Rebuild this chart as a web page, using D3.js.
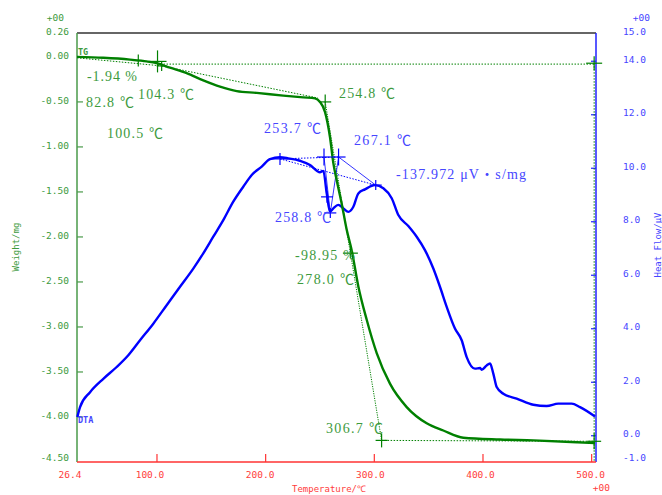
<!DOCTYPE html>
<html><head><meta charset="utf-8">
<script src="https://cdn.jsdelivr.net/npm/d3@7/dist/d3.min.js"></script>
<style>body{margin:0;background:#fff;} svg{display:block;}</style>
</head><body><svg id="c" width="662" height="495"></svg>
<script>
// ---------------- DATA ----------------
const tempTicks = [26.4, 100, 200, 300, 400, 500];
const tempTickLabels = ["26.4", "100.0", "200.0", "300.0", "400.0", "500.0"];
const weightTicks = [0.26, 0, -0.5, -1, -1.5, -2, -2.5, -3, -3.5, -4, -4.5];
const weightTickLabels = ["0.26", "0.00", "-0.50", "-1.00", "-1.50", "-2.00", "-2.50", "-3.00", "-3.50", "-4.00", "-4.50"];
const heatTicks = [15, 14, 12, 10, 8, 6, 4, 2, 0, -1];
const heatTickLabels = ["15.0", "14.0", "12.0", "10.0", "8.0", "6.0", "4.0", "2.0", "0.0", "-1.0"];

// TG curve (temperature °C, weight mg)
const tgTemp   = [26.4, 50.6, 75.2, 90.5, 99.7, 112.0, 127.3, 142.6, 158.0, 173.4, 191.8, 216.2, 234.6, 245.4, 250.0, 254.6, 259.2, 262.3, 265.4, 270.0, 274.6, 279.2, 285.3, 293.0, 302.2, 314.4, 329.8, 348.2, 363.5, 381.9, 415.7, 446.3, 486.2, 503.1];
const tgWeight = [0.00, -0.01, -0.03, -0.05, -0.07, -0.12, -0.18, -0.26, -0.33, -0.38, -0.40, -0.43, -0.45, -0.46, -0.50, -0.61, -0.89, -1.18, -1.37, -1.63, -1.92, -2.15, -2.55, -2.92, -3.29, -3.63, -3.89, -4.07, -4.15, -4.23, -4.25, -4.26, -4.28, -4.29];

// DTA curve (temperature °C, heat flow µV)
const dtaTemp = [26.7, 29.2, 38.4, 50.6, 62.9, 73.6, 84.4, 96.6, 108.9, 121.2, 133.4, 142.6, 151.8, 161.0, 170.2, 179.4, 187.2, 196.4, 204.0, 213.2, 220.8, 231.6, 240.8, 247.0, 250.0, 253.1, 256.2, 259.2, 262.3, 266.8, 271.5, 276.1, 280.7, 285.3, 291.4, 300.6, 308.3, 316.0, 322.1, 331.3, 339.0, 346.6, 354.3, 360.4, 366.6, 374.2, 380.4, 385.0, 392.6, 397.3, 398.8, 403.4, 406.5, 409.5, 412.6, 418.7, 431.0, 446.3, 458.6, 469.3, 481.6, 489.3, 503.1];
const dtaHeat = [0.70, 1.07, 1.63, 2.13, 2.57, 3.01, 3.57, 4.19, 4.88, 5.57, 6.25, 6.82, 7.44, 8.06, 8.75, 9.31, 9.75, 10.06, 10.34, 10.41, 10.37, 10.28, 10.12, 9.91, 9.85, 9.90, 9.06, 8.37, 8.50, 8.63, 8.50, 8.37, 8.56, 9.06, 9.21, 9.37, 9.25, 8.88, 8.25, 7.84, 7.44, 6.94, 6.25, 5.57, 4.82, 4.01, 3.57, 2.94, 2.51, 2.53, 2.47, 2.63, 2.70, 2.32, 1.82, 1.57, 1.39, 1.16, 1.11, 1.20, 1.20, 1.07, 0.72];

// analysis points
const tgMarkTemp   = [82.8, 100.5, 104.3, 254.8, 278.0, 306.7, 502.3, 502.3];
const tgMarkWeight = [-0.04, -0.05, -0.10, -0.50, -2.18, -4.26, -0.07, -4.27];
const dtaMarkTemp  = [213.2, 253.7, 267.1, 301.3, 256.5, 259.5];
const dtaMarkHeat  = [10.35, 10.42, 10.42, 9.37, 8.93, 8.33];

const annotTexts = ["-1.94 %", "82.8 ℃", "104.3 ℃", "100.5 ℃", "254.8 ℃", "-98.95 %", "278.0 ℃", "306.7 ℃",
                    "253.7 ℃", "267.1 ℃", "-137.972 μV・s/mg", "258.8 ℃"];

// ---------------- LAYOUT ----------------
const svg = d3.select("#c");
const L = 77, R = 596, T = 33, B = 462;
const x = d3.scaleLinear().domain([26.4, 504]).range([L, R]);
const yW = d3.scaleLinear().domain([-4.5, 0.26]).range([B, 33.5]);
const yH = d3.scaleLinear().domain([-1, 15]).range([462.5, 34.5]);

const GREEN = "#008000", BLUE = "#0000ff";
const GTXT = "#3d9a3d", BTXT = "#4646ff", RTXT = "#ff3c3c";
const axisFont = "'DejaVu Sans Mono', 'Liberation Mono', monospace";
const serif = "'Liberation Serif', 'Noto Sans CJK JP', serif";

// frame
svg.append("line").attr("x1", L).attr("x2", R).attr("y1", T).attr("y2", T).attr("stroke", "#333").attr("stroke-width", 1.5);
svg.append("line").attr("x1", L).attr("x2", L).attr("y1", T).attr("y2", B).attr("stroke", "#4a9a4a").attr("stroke-width", 1.5);
svg.append("line").attr("x1", R).attr("x2", R).attr("y1", T).attr("y2", B).attr("stroke", "#2020ff").attr("stroke-width", 1.5);
svg.append("line").attr("x1", L).attr("x2", R).attr("y1", B).attr("y2", B).attr("stroke", "#ff3333").attr("stroke-width", 1.5);

// left axis
weightTicks.forEach((v, i) => {
  const yy = yW(v);
  if (i > 0 && i < weightTicks.length - 1)
    svg.append("line").attr("x1", L).attr("x2", L + 6).attr("y1", yy).attr("y2", yy).attr("stroke", "#4a9a4a").attr("stroke-width", 1.2);
  let ly = yy - 1.5;
  if (i === 0) ly = 31; if (i === weightTicks.length - 1) ly = 457.5;
  svg.append("text").attr("x", 69).attr("y", ly + 3.5).attr("text-anchor", "end")
    .attr("font-family", axisFont).attr("font-size", 9.5).attr("fill", GTXT).text(weightTickLabels[i]);
});
svg.append("text").attr("x", 64).attr("y", 21).attr("text-anchor", "end").attr("font-family", axisFont)
  .attr("font-size", 9.5).attr("fill", GTXT).text("+00");
svg.append("text").attr("transform", "translate(19,247) rotate(-90)").attr("text-anchor", "middle")
  .attr("font-family", axisFont).attr("font-size", 9).attr("fill", GTXT).text("Weight/mg");

// right axis
heatTicks.forEach((v, i) => {
  const yy = yH(v);
  if (i > 0 && i < heatTicks.length - 1)
    svg.append("line").attr("x1", R - 5).attr("x2", R).attr("y1", yy).attr("y2", yy).attr("stroke", "#2020ff").attr("stroke-width", 1.2);
  let ly = yy - 2;
  if (i === 0) ly = 31; if (i === heatTicks.length - 1) ly = 457.5;
  svg.append("text").attr("x", 623).attr("y", ly + 3.5).attr("text-anchor", "start")
    .attr("font-family", axisFont).attr("font-size", 9.5).attr("fill", BTXT).text(heatTickLabels[i]);
});
svg.append("text").attr("x", 650).attr("y", 21).attr("text-anchor", "end").attr("font-family", axisFont)
  .attr("font-size", 9.5).attr("fill", BTXT).text("+00");
svg.append("text").attr("transform", "translate(661,245) rotate(-90)").attr("text-anchor", "middle")
  .attr("font-family", axisFont).attr("font-size", 9).attr("fill", BTXT).text("Heat Flow/μV");

// bottom axis
tempTicks.forEach((v, i) => {
  const xx = x(v);
  if (i > 0)
    svg.append("line").attr("x1", xx).attr("x2", xx).attr("y1", B).attr("y2", B - 8).attr("stroke", "#ff3333").attr("stroke-width", 1.2);
  const off = v < 100 ? -7 : -7 + (v - 100) * 0.015;
  svg.append("text").attr("x", xx + off).attr("y", 478).attr("text-anchor", "middle")
    .attr("font-family", axisFont).attr("font-size", 9.5).attr("fill", RTXT).text(tempTickLabels[i]);
});
svg.append("text").attr("x", 610).attr("y", 491).attr("text-anchor", "end").attr("font-family", axisFont)
  .attr("font-size", 9.5).attr("fill", RTXT).text("+00");
svg.append("text").attr("x", 292).attr("y", 492).attr("font-family", axisFont)
  .attr("font-size", 9).attr("fill", RTXT).text("Temperature/℃");

// curve labels
svg.append("text").attr("x", 78).attr("y", 55).attr("font-family", axisFont).attr("font-size", 8.5)
  .attr("font-weight", "bold").attr("fill", GTXT).text("TG");
svg.append("text").attr("x", 78).attr("y", 423).attr("font-family", axisFont).attr("font-size", 8.5)
  .attr("font-weight", "bold").attr("fill", BTXT).text("DTA");

// ---------------- construction lines ----------------
const gm = i => [x(tgMarkTemp[i]), yW(tgMarkWeight[i])];
const bm = i => [x(dtaMarkTemp[i]), yH(dtaMarkHeat[i])];
function seg(p, q, color, dash, w) {
  svg.append("line").attr("x1", p[0]).attr("y1", p[1]).attr("x2", q[0]).attr("y2", q[1])
    .attr("stroke", color).attr("stroke-width", w || 1).attr("stroke-dasharray", dash || null);
}
const start = [x(tgTemp[0]), yW(-0.01)];
const base1end = [x(248.2), yW(-0.457)];
seg(start, gm(2), GREEN, "1.5,1.5");
seg(gm(2), base1end, GREEN, "1.5,1.5");
seg([x(100.5), yW(-0.08)], [x(502.3), yW(-0.08)], GREEN, "1.5,1.5");
seg(gm(6), [x(502.3), B], GREEN, "1.5,1.5");
seg(gm(3), gm(5), GREEN, "1.2,1.2");
seg(gm(5), gm(7), GREEN, "1.5,1.5");

seg(bm(0), bm(2), BLUE, "1.5,1.5");
seg(bm(0), bm(3), BLUE, "1.5,1.5");
seg(bm(2), bm(3), BLUE, null, 0.8);
seg(bm(1), bm(5), BLUE, null, 0.8);
seg(bm(2), bm(5), BLUE, null, 0.8);

// ---------------- curves ----------------
const tgData = tgTemp.map((t, i) => [t, tgWeight[i]]);
const dtaData = dtaTemp.map((t, i) => [t, dtaHeat[i]]);
svg.append("path").datum(dtaData)
  .attr("d", d3.line().x(d => x(d[0])).y(d => yH(d[1])).curve(d3.curveMonotoneX))
  .attr("fill", "none").attr("stroke", BLUE).attr("stroke-width", 2.4);
svg.append("path").datum(tgData)
  .attr("d", d3.line().x(d => x(d[0])).y(d => yW(d[1])).curve(d3.curveMonotoneX))
  .attr("fill", "none").attr("stroke", GREEN).attr("stroke-width", 2.4);

// ---------------- markers ----------------
function cross(p, sx, sy, color) {
  svg.append("line").attr("x1", p[0] - sx).attr("x2", p[0] + sx).attr("y1", p[1]).attr("y2", p[1]).attr("stroke", color).attr("stroke-width", 1.2);
  svg.append("line").attr("x1", p[0]).attr("x2", p[0]).attr("y1", p[1] - sy).attr("y2", p[1] + sy).attr("stroke", color).attr("stroke-width", 1.2);
}
const tgCrossSize = [[6, 6], [9, 11], [5, 5], [6, 7.5], [7.5, 5], [6, 7], [8, 7], [7, 8]];
tgMarkTemp.forEach((t, i) => cross(gm(i), tgCrossSize[i][0], tgCrossSize[i][1], GREEN));
const dtaCrossSize = [[11, 6], [7, 8.5], [7, 8.5], [6, 5], [6, 6], [6, 5]];
dtaMarkTemp.forEach((t, i) => cross(bm(i), dtaCrossSize[i][0], dtaCrossSize[i][1], BLUE));

// ---------------- annotation text ----------------
const annotLayout = [
  [87, 81, 50, GTXT], [86, 107, 48, GTXT], [138, 99, 56, GTXT], [107, 138, 56, GTXT],
  [339, 98, 56, GTXT], [295, 260, 60, GTXT], [297, 284, 57, GTXT], [326, 433, 57, GTXT],
  [264, 133, 57, BTXT], [354, 145, 57, BTXT], [396, 179, 130, BTXT], [275, 222, 56, BTXT]
];
annotTexts.forEach((s, i) => {
  const a = annotLayout[i];
  svg.append("text").attr("x", a[0]).attr("y", a[1]).attr("font-family", serif).attr("font-size", 14)
    .attr("fill", a[3]).attr("textLength", a[2]).attr("lengthAdjust", "spacing").text(s);
});
</script>
</body></html>
